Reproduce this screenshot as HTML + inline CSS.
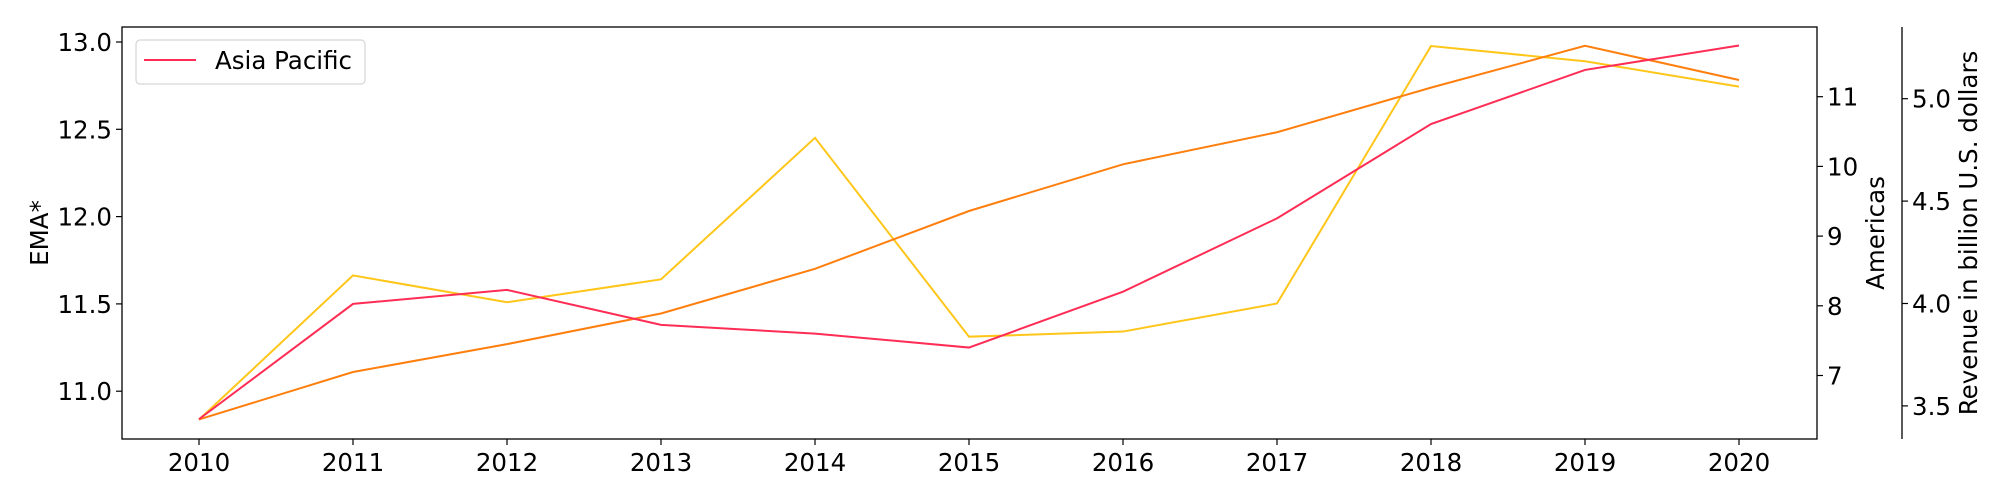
<!DOCTYPE html>
<html><head><meta charset="utf-8">
<style>
html,body{margin:0;padding:0;background:#fff;}
svg{display:block;font-family:"DejaVu Sans","Liberation Sans",sans-serif;}
</style></head>
<body>
<svg id="chart" width="2000" height="500" viewBox="0 0 2000 500" xmlns="http://www.w3.org/2000/svg">
<g id="plot"></g>
</svg>
<script>
const years = [2010,2011,2012,2013,2014,2015,2016,2017,2018,2019,2020];
const asiaPacific = [10.84,11.50,11.58,11.38,11.33,11.25,11.57,11.99,12.53,12.84,12.98];
const americas = [6.37,7.05,7.45,7.89,8.53,9.36,10.03,10.49,11.13,11.73,11.24];
const revenue = [3.433,4.137,4.006,4.118,4.809,3.838,3.863,4.0,5.257,5.183,5.059];
const leftTicks = [11.0,11.5,12.0,12.5,13.0];
const leftTickLabels = ["11.0","11.5","12.0","12.5","13.0"];
const amTicks = [7,8,9,10,11];
const revTicks = [3.5,4.0,4.5,5.0];
const revTickLabels = ["3.5","4.0","4.5","5.0"];

const NS="http://www.w3.org/2000/svg";
const svg=document.getElementById('chart');
const plot=document.getElementById('plot');
const L=122,R=1817,T=27,B=439,R2=1902;
const FS=24.5;
const xS=y=>199+(y-2010)*154;
const yL=v=>42+(13-v)*174.6;
const yA=v=>96.7+(11-v)*69.7;
const yR=v=>98.7+(5-v)*204.8;
function mk(tag,attrs,parent){const e=document.createElementNS(NS,tag);for(const k in attrs)e.setAttribute(k,attrs[k]);(parent||svg).appendChild(e);return e;}

function line(vals,ys,color,name){
  const p=mk('polyline',{points:vals.map((v,i)=>xS(years[i])+','+ys(v)).join(' '),fill:'none',stroke:color,'stroke-width':2},plot);
  
  
}
line(revenue,yR,'#ffc61a','revenue-line');
line(americas,yA,'#ff7f0e','americas-line');
line(asiaPacific,yL,'#ff2d55','asia-pacific-line');

const frame=mk('rect',{x:L,y:T,width:R-L,height:B-T,fill:'none',stroke:'#000','stroke-width':1.3});


const sp=mk('line',{x1:R2,y1:T,x2:R2,y2:B,stroke:'#000','stroke-width':1.3});



function txt(x,y,s,anchor,name,extra){const t=mk('text',Object.assign({x:x,y:y,'font-size':FS,'text-anchor':anchor,fill:'#000'},extra||{}));t.textContent=s;
  
  return t;}

years.forEach(yr=>{const x=xS(yr);mk('line',{x1:x,y1:B,x2:x,y2:B+6,stroke:'#000','stroke-width':1.2});txt(x,B+32,String(yr),'middle','x-tick-label');});
leftTicks.forEach((v,i)=>{const y=yL(v);mk('line',{x1:L-6,y1:y,x2:L,y2:y,stroke:'#000','stroke-width':1.2});txt(L-10,y+9,leftTickLabels[i],'end','left-tick-label');});
amTicks.forEach(v=>{const y=yA(v);mk('line',{x1:R,y1:y,x2:R+6,y2:y,stroke:'#000','stroke-width':1.2});txt(R+10,y+9,String(v),'start','americas-tick-label');});
revTicks.forEach((v,i)=>{const y=yR(v);mk('line',{x1:R2,y1:y,x2:R2+6,y2:y,stroke:'#000','stroke-width':1.2});txt(R2+10,y+9,revTickLabels[i],'start','revenue-tick-label');});

txt(0,0,'EMA*','middle','left-axis-title',{transform:'translate(48,233) rotate(-90)'});
txt(0,0,'Americas','middle','americas-axis-title',{transform:'translate(1884,233) rotate(-90)'});
txt(0,0,'Revenue in billion U.S. dollars','middle','revenue-axis-title',{transform:'translate(1977,233) rotate(-90)'});

const lg=mk('g',{});


mk('rect',{x:136,y:40,width:229,height:44,rx:4,fill:'#fff',stroke:'#d6d6d6','stroke-width':1.2},lg);
mk('line',{x1:144,y1:60,x2:196,y2:60,stroke:'#ff2d55','stroke-width':2},lg);
const lt=mk('text',{x:215,y:69,'font-size':FS,fill:'#000'},lg);lt.textContent='Asia Pacific';


</script>
</body></html>
